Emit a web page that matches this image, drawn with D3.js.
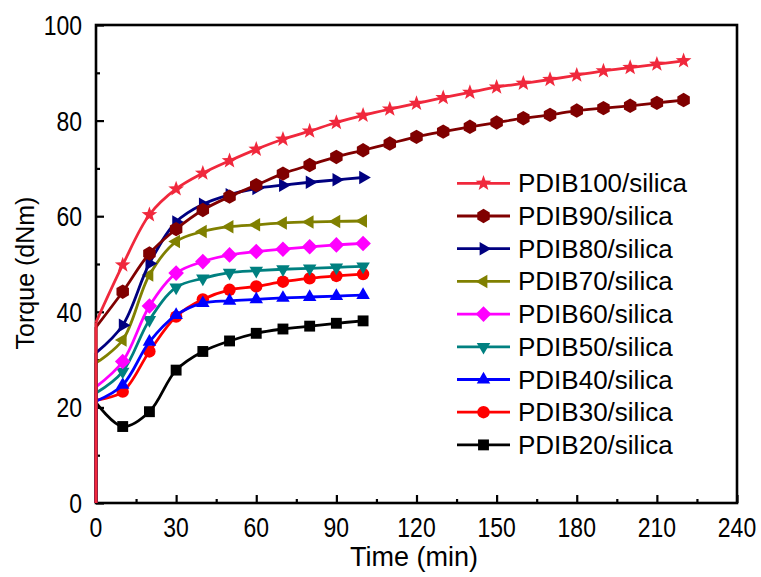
<!DOCTYPE html>
<html>
<head>
<meta charset="utf-8">
<script src="https://cdn.jsdelivr.net/npm/d3@7/dist/d3.min.js"></script>
<style>
html,body{margin:0;padding:0;background:#fff;}
svg{display:block;}
text{font-family:"Liberation Sans",Arial,sans-serif;fill:#000;}
</style>
</head>
<body>
<svg id="chart" width="761" height="577"></svg>
<script>
// ---- data ----
const seriesNames = ["PDIB100/silica","PDIB90/silica","PDIB80/silica","PDIB70/silica","PDIB60/silica","PDIB50/silica","PDIB40/silica","PDIB30/silica","PDIB20/silica"];
const timeShort = [10,20,30,40,50,60,70,80,90,100];
const timeLong = [10,20,30,40,50,60,70,80,90,100,110,120,130,140,150,160,170,180,190,200,210,220];
const startValues = [37.8, 36.8, 31.4, 29.3, 24.3, 23.0, 21.3, 21.5, 21.0];
const pdib100 = [49.8,60.3,65.7,69.0,71.6,74.0,76.1,77.8,79.6,81.1,82.4,83.6,84.8,85.9,87.0,87.8,88.6,89.5,90.4,91.1,91.8,92.5];
const pdib90  = [44.2,52.2,57.3,61.3,64.1,66.5,68.9,70.7,72.4,73.8,75.2,76.6,77.7,78.7,79.6,80.5,81.2,82.1,82.6,83.1,83.7,84.3];
const pdib80  = [37.2,50.1,58.8,62.5,64.5,65.8,66.5,67.1,67.6,68.1];
const pdib70  = [34.1,47.7,54.7,56.8,57.8,58.2,58.6,58.8,58.9,59.0];
const pdib60  = [29.6,41.2,48.1,50.5,51.9,52.6,53.1,53.6,54.0,54.3];
const pdib50  = [27.5,38.3,45.1,47.0,48.2,48.6,48.9,49.1,49.3,49.5];
const pdib40  = [24.7,33.7,39.3,41.8,42.3,42.6,42.9,43.1,43.3,43.5];
const pdib30  = [23.3,31.7,39.0,42.6,44.6,45.3,46.3,47.0,47.5,47.9];
const pdib20  = [16.0,19.1,27.8,31.7,33.9,35.5,36.4,37.0,37.6,38.1];
const seriesValues = [pdib100,pdib90,pdib80,pdib70,pdib60,pdib50,pdib40,pdib30,pdib20];
const seriesTimes = [timeLong,timeLong,timeShort,timeShort,timeShort,timeShort,timeShort,timeShort,timeShort];
const colors = ["#f0283c","#800000","#000080","#808000","#ff00ff","#008080","#0000ff","#ff0000","#000000"];
const symbols = ["star","hexagon","triRight","triLeft","diamond","triDown","triUp","circle","square"];
const xTicks = [0,30,60,90,120,150,180,210,240];
const yTicks = [0,20,40,60,80,100];
const xLabel = "Time (min)";
const yLabel = "Torque (dNm)";

// ---- layout ----
const svg = d3.select("#chart");
const x = d3.scaleLinear().domain([0,240]).range([96,737]);
const y = d3.scaleLinear().domain([0,100]).range([503,25]);

function symPath(type, r){
  const poly = (n, rot, rad) => { const p=[]; for(let i=0;i<n;i++){const a=rot+i*2*Math.PI/n; p.push([rad*Math.cos(a), rad*Math.sin(a)]);} return p; };
  const toPath = p => "M"+p.map(d=>d[0].toFixed(2)+","+d[1].toFixed(2)).join("L")+"Z";
  switch(type){
    case "star": {
      const p=[]; for(let i=0;i<10;i++){const a=-Math.PI/2+i*Math.PI/5; const rr = i%2===0? r*1.1 : r*0.45; p.push([rr*Math.cos(a), rr*Math.sin(a)]);} return toPath(p);
    }
    case "hexagon": return toPath(poly(6, Math.PI/6, r));
    case "triRight": return toPath(poly(3, 0, r));
    case "triLeft": return toPath(poly(3, Math.PI, r));
    case "triUp": return toPath(poly(3, -Math.PI/2, r));
    case "triDown": return toPath(poly(3, Math.PI/2, r));
    case "diamond": return toPath(poly(4, 0, r));
    case "circle": return `M${r},0A${r},${r} 0 1,1 ${-r},0A${r},${r} 0 1,1 ${r},0Z`;
    case "square": { const s=r*0.8; return `M${-s},${-s}L${s},${-s}L${s},${s}L${-s},${s}Z`; }
  }
}
const symSize = {star:7.5, hexagon:7.2, triRight:7.8, triLeft:7.8, triUp:7.8, triDown:7.8, diamond:7.8, circle:6.2, square:6.8};

// axes (ticks inward)
const gx = svg.append("g").attr("transform","translate(0,503)");
gx.call(d3.axisBottom(x).tickValues(xTicks).tickSizeInner(-8).tickSizeOuter(0).tickFormat(""));
const gxm = svg.append("g").attr("transform","translate(0,503)");
gxm.call(d3.axisBottom(x).tickValues(d3.range(15,240,30)).tickSizeInner(-4).tickSizeOuter(0).tickFormat(""));
const gy = svg.append("g").attr("transform","translate(96,0)");
gy.call(d3.axisLeft(y).tickValues(yTicks).tickSizeInner(-8).tickSizeOuter(0).tickFormat(""));
const gym = svg.append("g").attr("transform","translate(96,0)");
gym.call(d3.axisLeft(y).tickValues(d3.range(10,100,20)).tickSizeInner(-4).tickSizeOuter(0).tickFormat(""));
svg.selectAll(".domain").remove();
svg.selectAll(".tick line").attr("stroke","#000").attr("stroke-width",2.2);

// tick labels
svg.append("g").selectAll("text").data(xTicks).join("text")
  .attr("transform", d=>`translate(${x(d)},537) scale(0.82,1)`)
  .attr("text-anchor","middle").attr("font-size",28).text(d=>d);
svg.append("g").selectAll("text").data(yTicks).join("text")
  .attr("transform", d=>`translate(82,${y(d)+10}) scale(0.82,1)`)
  .attr("text-anchor","end").attr("font-size",28).text(d=>d);

// axis titles
svg.append("text").attr("x",414).attr("y",566).attr("text-anchor","middle").attr("font-size",27).text(xLabel);
svg.append("text").attr("transform","translate(34,273) rotate(-90)").attr("text-anchor","middle").attr("font-size",25).text(yLabel);

// frame
svg.append("rect").attr("x",96).attr("y",25).attr("width",737-96).attr("height",503-25)
  .attr("fill","none").attr("stroke","#000").attr("stroke-width",2.6);

// series (draw PDIB20 first, PDIB100 last)
const line = d3.line().x(d=>x(d[0])).y(d=>y(d[1])).curve(d3.curveCatmullRom.alpha(0.5));
const order = d3.range(seriesNames.length).reverse();
order.forEach(i=>{
  const pts = [[0,startValues[i]]].concat(seriesTimes[i].map((t,j)=>[t,seriesValues[i][j]]));
  const g = svg.append("g");
  g.append("path").attr("d", `M${x(0)},${y(0)}L${x(0)},${y(startValues[i])}`)
    .attr("stroke",colors[i]).attr("stroke-width",2.8).attr("fill","none");
  g.append("path").attr("d", line(pts)).attr("stroke",colors[i]).attr("stroke-width",2.8).attr("fill","none");
  g.selectAll("path.m").data(pts.slice(1)).join("path").attr("class","m")
    .attr("transform",d=>`translate(${x(d[0])},${y(d[1])})`)
    .attr("d", symPath(symbols[i], symSize[symbols[i]])).attr("fill",colors[i]);
});

// legend
const lg = svg.append("g");
seriesNames.forEach((name,i)=>{
  const cy = 183.3 + i*32.7;
  lg.append("line").attr("x1",457).attr("x2",510).attr("y1",cy).attr("y2",cy).attr("stroke",colors[i]).attr("stroke-width",2.8);
  lg.append("path").attr("transform",`translate(483.5,${cy})`).attr("d",symPath(symbols[i], symSize[symbols[i]])).attr("fill",colors[i]);
  lg.append("text").attr("x",518).attr("y",cy+9).attr("font-size",26).text(name);
});
</script>
</body>
</html>
